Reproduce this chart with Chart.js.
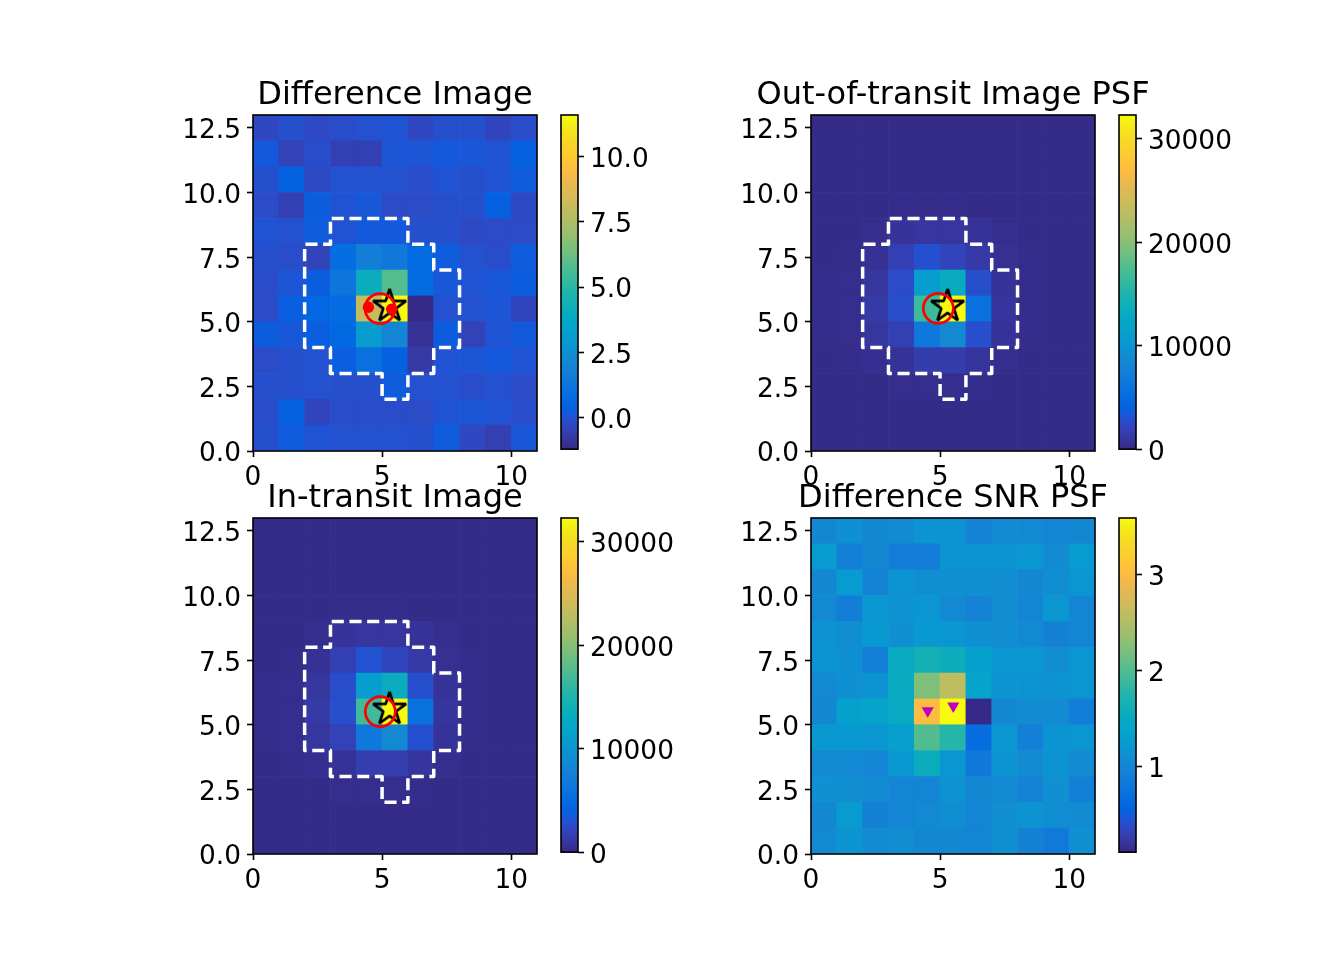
<!DOCTYPE html>
<html>
<head>
<meta charset="utf-8">
<title>Difference images</title>
<script src="https://cdn.jsdelivr.net/npm/chart.js@4/dist/chart.umd.min.js"></script>
<style>
body { margin: 0; background: #fff; }
canvas { position: absolute; }
</style>
</head>
<body>
<script>
// pixel values, rows written top of the image first (row 12 down to row 0)
const diffValues = [
  [-0.30, -0.10, -0.25, -0.15, -0.05, 0.00, -0.30, -0.10, -0.10, -0.35, -0.15],
  [0.15, -0.45, -0.15, -0.50, -0.50, 0.05, 0.05, 0.15, 0.10, 0.00, 0.35],
  [-0.10, 0.40, -0.25, -0.05, -0.05, -0.05, -0.15, 0.00, -0.10, 0.00, 0.20],
  [-0.20, -0.50, 0.25, 0.00, 0.10, -0.20, -0.20, -0.10, -0.10, 0.35, -0.25],
  [0.00, -0.05, 0.20, 0.00, 0.15, 0.15, -0.10, -0.10, -0.25, -0.20, -0.20],
  [-0.10, -0.15, -0.40, 0.85, 1.70, 1.40, 0.70, 0.20, -0.05, -0.15, 0.20],
  [-0.15, 0.05, 0.25, 1.25, 4.10, 5.80, 0.80, 0.10, 0.00, 0.10, 0.25],
  [-0.20, 0.30, 0.55, 0.80, 8.10, 11.60, -1.22, -0.05, -0.05, 0.05, -0.35],
  [0.25, 0.10, 0.30, 0.60, 3.00, 2.00, -0.95, 0.25, -0.45, 0.00, 0.15],
  [-0.20, -0.10, -0.05, 0.30, 1.00, 0.35, -0.70, 0.00, 0.05, 0.15, 0.00],
  [-0.10, -0.10, -0.05, -0.10, -0.10, 0.20, -0.05, -0.05, -0.15, -0.05, -0.20],
  [-0.15, 0.35, -0.35, -0.15, -0.15, -0.15, -0.20, 0.00, 0.05, 0.00, -0.15],
  [-0.10, 0.20, 0.00, -0.05, -0.05, -0.05, -0.10, 0.20, -0.30, -0.55, 0.10]
];
const outValues = [
  [100, 100, 100, 100, 100, 100, 100, 100, 100, 100, 100],
  [100, 100, 100, 100, 100, 100, 100, 100, 100, 100, 100],
  [100, 100, 100, 110, 120, 110, 100, 100, 100, 100, 100],
  [100, 100, 120, 160, 180, 170, 130, 110, 100, 100, 100],
  [110, 130, 350, 800, 950, 950, 700, 300, 130, 100, 100],
  [130, 180, 600, 1800, 2900, 2100, 1300, 500, 150, 100, 100],
  [150, 250, 1000, 2600, 10800, 13200, 2700, 700, 170, 100, 100],
  [200, 300, 1300, 2700, 16700, 32300, 5600, 900, 180, 100, 100],
  [150, 250, 1000, 1800, 6500, 8600, 2800, 700, 160, 100, 100],
  [120, 170, 400, 700, 1500, 1500, 900, 300, 130, 100, 100],
  [100, 110, 130, 250, 300, 300, 200, 120, 100, 100, 100],
  [100, 100, 100, 120, 130, 120, 110, 100, 100, 100, 100],
  [100, 100, 100, 100, 100, 100, 100, 100, 100, 100, 100]
];
const inValues = [
  [100, 100, 100, 100, 100, 100, 100, 100, 100, 100, 100],
  [100, 100, 100, 100, 100, 100, 100, 100, 100, 100, 100],
  [100, 100, 100, 120, 120, 120, 110, 100, 100, 100, 100],
  [100, 100, 130, 160, 190, 170, 130, 110, 100, 100, 100],
  [110, 130, 350, 800, 950, 950, 700, 300, 130, 100, 100],
  [130, 200, 600, 1800, 3000, 2200, 1300, 500, 150, 100, 100],
  [150, 280, 1000, 2700, 11000, 13400, 2800, 700, 170, 100, 100],
  [200, 320, 1300, 2800, 16800, 32300, 5700, 900, 180, 100, 100],
  [150, 280, 1000, 1900, 6600, 8700, 2900, 700, 160, 100, 100],
  [120, 170, 400, 700, 1600, 1600, 900, 300, 130, 100, 100],
  [100, 110, 130, 250, 300, 300, 200, 120, 100, 100, 100],
  [100, 100, 100, 120, 130, 120, 110, 100, 100, 100, 100],
  [100, 100, 100, 100, 100, 100, 100, 100, 100, 100, 100]
];
const snrValues = [
  [1.02, 1.12, 1.02, 1.07, 1.17, 1.17, 0.97, 1.05, 1.05, 0.99, 1.02],
  [1.25, 0.92, 1.02, 0.88, 0.88, 1.17, 1.17, 1.17, 1.20, 1.07, 1.25],
  [1.02, 1.25, 0.97, 1.17, 1.09, 1.12, 1.12, 1.09, 1.02, 1.09, 1.20],
  [1.05, 0.90, 1.20, 1.15, 1.18, 1.05, 0.97, 1.09, 0.99, 1.20, 0.99],
  [1.15, 1.09, 1.22, 1.12, 1.22, 1.20, 1.12, 1.09, 1.05, 0.95, 0.99],
  [1.17, 1.12, 0.92, 1.50, 1.64, 1.58, 1.32, 1.20, 1.20, 1.09, 1.20],
  [1.05, 1.12, 1.17, 1.52, 2.23, 2.58, 1.38, 1.17, 1.17, 1.15, 1.20],
  [1.02, 1.32, 1.38, 1.48, 3.00, 3.59, 0.11, 1.02, 1.07, 1.07, 0.90],
  [1.22, 1.22, 1.20, 1.30, 2.00, 1.77, 0.68, 1.20, 0.92, 1.17, 1.20],
  [1.05, 1.05, 0.99, 1.22, 1.56, 1.20, 0.82, 1.17, 1.07, 1.17, 1.07],
  [1.12, 1.09, 1.07, 0.99, 0.99, 1.15, 1.02, 1.05, 0.97, 1.12, 0.92],
  [1.02, 1.25, 0.95, 0.99, 1.05, 1.09, 0.99, 1.09, 1.17, 1.09, 1.07],
  [1.05, 1.17, 1.07, 1.09, 1.02, 1.02, 0.99, 1.12, 0.95, 0.85, 1.12]
];

const xTicks = [0, 5, 10];
const yTicks = [0, 2.5, 5, 7.5, 10, 12.5];
const diffBarTicks = [0, 2.5, 5, 7.5, 10];
const fluxBarTicks = [0, 10000, 20000, 30000];
const snrBarTicks = [1, 2, 3];

// optimal aperture outline
const apertureX = [3, 6, 6, 7, 7, 8, 8, 7, 7, 6, 6, 5, 5, 3, 3, 2, 2, 3, 3];
const apertureY = [9, 9, 8, 8, 7, 7, 4, 4, 3, 3, 2, 2, 3, 3, 4, 4, 8, 8, 9];

const catalogStar = { x: 5.29, y: 5.6 };
const diffCircle = { x: 4.92, y: 5.51 };
const outCircle = { x: 4.93, y: 5.52 };
const inCircle = { x: 4.93, y: 5.51 };
const diffDots = [{ x: 4.47, y: 5.56 }, { x: 5.37, y: 5.49 }];
const snrMarks = [{ x: 4.52, y: 5.54 }, { x: 5.51, y: 5.73 }];

const parula = [
  [0.2081, 0.1663, 0.5292], [0.2116, 0.1898, 0.5777], [0.2123, 0.2138, 0.6270], [0.2081, 0.2386, 0.6771],
  [0.1959, 0.2645, 0.7279], [0.1707, 0.2919, 0.7792], [0.1253, 0.3242, 0.8303], [0.0591, 0.3598, 0.8683],
  [0.0117, 0.3875, 0.8820], [0.0060, 0.4086, 0.8828], [0.0165, 0.4266, 0.8786], [0.0329, 0.4430, 0.8720],
  [0.0498, 0.4586, 0.8641], [0.0629, 0.4737, 0.8554], [0.0723, 0.4887, 0.8467], [0.0779, 0.5040, 0.8384],
  [0.0793, 0.5200, 0.8312], [0.0749, 0.5375, 0.8263], [0.0641, 0.5570, 0.8240], [0.0488, 0.5772, 0.8228],
  [0.0343, 0.5966, 0.8199], [0.0265, 0.6137, 0.8135], [0.0239, 0.6287, 0.8038], [0.0231, 0.6418, 0.7913],
  [0.0228, 0.6535, 0.7767], [0.0267, 0.6642, 0.7607], [0.0384, 0.6743, 0.7436], [0.0590, 0.6838, 0.7254],
  [0.0843, 0.6928, 0.7062], [0.1133, 0.7015, 0.6859], [0.1453, 0.7098, 0.6646], [0.1801, 0.7177, 0.6424],
  [0.2178, 0.7250, 0.6193], [0.2586, 0.7317, 0.5954], [0.3022, 0.7376, 0.5712], [0.3482, 0.7424, 0.5473],
  [0.3953, 0.7459, 0.5244], [0.4420, 0.7481, 0.5033], [0.4871, 0.7491, 0.4840], [0.5300, 0.7491, 0.4661],
  [0.5709, 0.7485, 0.4494], [0.6099, 0.7473, 0.4337], [0.6473, 0.7456, 0.4188], [0.6834, 0.7435, 0.4044],
  [0.7184, 0.7411, 0.3905], [0.7525, 0.7384, 0.3768], [0.7858, 0.7356, 0.3633], [0.8185, 0.7327, 0.3498],
  [0.8507, 0.7299, 0.3360], [0.8824, 0.7274, 0.3217], [0.9139, 0.7258, 0.3063], [0.9450, 0.7261, 0.2886],
  [0.9739, 0.7314, 0.2666], [0.9938, 0.7455, 0.2403], [0.9990, 0.7653, 0.2164], [0.9955, 0.7861, 0.1967],
  [0.9880, 0.8066, 0.1794], [0.9789, 0.8271, 0.1633], [0.9697, 0.8481, 0.1475], [0.9626, 0.8705, 0.1309],
  [0.9589, 0.8949, 0.1132], [0.9598, 0.9218, 0.0948], [0.9661, 0.9514, 0.0755], [0.9763, 0.9831, 0.0538]
];

const nCols = 11;
const nRows = 13;

Chart.defaults.font.family = '"DejaVu Sans"';
Chart.defaults.color = '#000';
Chart.defaults.animation = false;
Chart.defaults.events = [];

function toRgb(c) {
  return 'rgb(' + c.map(v => Math.round(v * 255)).join(',') + ')';
}

function valueColor(v, vmin, vmax) {
  const f = Math.min(1, Math.max(0, (v - vmin) / (vmax - vmin))) * (parula.length - 1);
  const i = Math.min(parula.length - 2, Math.floor(f));
  const t = f - i;
  return toRgb(parula[i].map((c, k) => c + (parula[i + 1][k] - c) * t));
}

// outline of the axes, matplotlib style, all four sides
const framePlugin = {
  id: 'frame',
  afterDraw(chart) {
    const a = chart.chartArea, ctx = chart.ctx;
    ctx.save();
    ctx.strokeStyle = '#000';
    ctx.lineWidth = 1.6;
    ctx.strokeRect(a.left, a.top, a.right - a.left, a.bottom - a.top);
    ctx.restore();
  }
};

function addCanvas(left, top, w, h) {
  const c = document.createElement('canvas');
  c.width = w;
  c.height = h;
  c.style.left = left + 'px';
  c.style.top = top + 'px';
  c.style.width = w + 'px';
  c.style.height = h + 'px';
  document.body.appendChild(c);
  return c;
}

function starImage(radius, width) {
  const size = Math.ceil(radius * 2 + 14);
  const c = document.createElement('canvas');
  c.width = c.height = size;
  const ctx = c.getContext('2d');
  ctx.translate(size / 2, size / 2);
  ctx.beginPath();
  for (let i = 0; i < 10; i++) {
    const r = i % 2 ? radius * 0.381966 : radius;
    const a = -Math.PI / 2 + i * Math.PI / 5;
    ctx.lineTo(r * Math.cos(a), r * Math.sin(a));
  }
  ctx.closePath();
  ctx.lineJoin = 'bevel';
  ctx.lineWidth = width;
  ctx.strokeStyle = '#000';
  ctx.stroke();
  return c;
}

const tickGrid = { drawOnChartArea: false, drawTicks: true, tickLength: 6, tickWidth: 1.6, tickColor: '#000', offset: false };

function setTicks(list) {
  return axis => { axis.ticks = list.map(v => ({ value: v })); };
}

function drawPanel(opts) {
  const cells = [];
  const colors = [];
  opts.values.forEach((row, r) => {
    row.forEach((v, col) => {
      const y = nRows - 1 - r;
      cells.push({ x: col + 0.5, y: [y, y + 1] });
      colors.push(valueColor(v, opts.vmin, opts.vmax));
    });
  });

  const datasets = [];
  if (opts.marks) {
    datasets.push({
      type: 'scatter', data: opts.marks, order: 0,
      pointStyle: opts.markStyle, rotation: opts.markRotation || 0,
      pointRadius: opts.markRadius, backgroundColor: opts.markColor, borderColor: opts.markColor, borderWidth: 0
    });
  }
  if (opts.circle) {
    datasets.push({
      type: 'scatter', data: [opts.circle], order: 1, pointStyle: 'circle', pointRadius: 15,
      backgroundColor: 'rgba(0,0,0,0)', borderColor: '#f00', borderWidth: 2.7
    });
  }
  if (opts.star) {
    datasets.push({ type: 'scatter', data: [opts.star], order: 2, pointStyle: starImage(17.3, 2.7), pointRadius: 17 });
  }
  if (opts.aperture) {
    datasets.push({
      type: 'scatter', showLine: true, order: 3, pointRadius: 0,
      data: apertureX.map((x, i) => ({ x: x, y: apertureY[i] })),
      borderColor: '#fff', borderWidth: 3.5, borderDash: [12.1, 5.6], borderDashOffset: 16.4,
      borderJoinStyle: 'round', fill: false, tension: 0
    });
  }
  datasets.push({
    type: 'bar', data: cells, order: 4, backgroundColor: colors, borderWidth: 0,
    barPercentage: 1, categoryPercentage: 1
  });

  const marginX = 100, titleH = 44, bottomH = 50;
  const w = 284, h = 336;
  const canvas = addCanvas(opts.left - marginX, opts.top - titleH, w + marginX * 2, h + titleH + bottomH);
  new Chart(canvas, {
    type: 'bar',
    data: { datasets: datasets },
    plugins: [framePlugin],
    options: {
      responsive: false,
      layout: { autoPadding: false },
      plugins: {
        legend: { display: false },
        tooltip: { enabled: false },
        title: { display: true, text: opts.title, font: { size: 32, weight: 'normal' }, padding: { top: 5.6, bottom: 0 } }
      },
      scales: {
        x: {
          type: 'linear', min: 0, max: nCols, offset: false, grid: tickGrid, border: { display: false },
          afterBuildTicks: setTicks(xTicks),
          afterFit: s => { s.height = bottomH; },
          ticks: { font: { size: 26.4 }, padding: 5, maxRotation: 0, autoSkip: false, callback: v => String(v) }
        },
        y: {
          type: 'linear', min: 0, max: nRows, grid: tickGrid, border: { display: false },
          afterBuildTicks: setTicks(yTicks),
          afterFit: s => { s.width = marginX; },
          ticks: { font: { size: 26.4 }, padding: 6, labelOffset: 3.5, autoSkip: false, callback: v => v.toFixed(1) }
        },
        // empty right axis, keeps the plot centred under the full width title
        spacer: {
          type: 'linear', position: 'right',
          ticks: { display: false }, grid: { display: false }, border: { display: false },
          afterFit: s => { s.width = marginX; }
        }
      }
    }
  });

  // the tick labels need head room above the bar or the layout shrinks it
  const barLeft = 10, barTop = 24, barBottom = 20;
  const barCanvas = addCanvas(opts.left + 308 - barLeft, opts.top - barTop, barLeft + 17 + 110, h + barTop + barBottom);
  new Chart(barCanvas, {
    type: 'bar',
    data: {
      datasets: [{
        data: [{ x: 0.5, y: [opts.vmin, opts.vmax] }],
        barPercentage: 1, categoryPercentage: 1, borderWidth: 0,
        backgroundColor: ctx => {
          const a = ctx.chart.chartArea;
          if (!a) return '#000';
          const g = ctx.chart.ctx.createLinearGradient(0, a.bottom, 0, a.top);
          parula.forEach((c, i) => g.addColorStop(i / (parula.length - 1), toRgb(c)));
          return g;
        }
      }]
    },
    plugins: [framePlugin],
    options: {
      responsive: false,
      layout: { autoPadding: false, padding: { left: barLeft, top: barTop } },
      plugins: { legend: { display: false }, tooltip: { enabled: false } },
      scales: {
        x: {
          type: 'linear', min: 0, max: 1, offset: false,
          ticks: { display: false }, grid: { display: false }, border: { display: false },
          afterFit: s => { s.height = barBottom; }
        },
        y: {
          type: 'linear', position: 'right', min: opts.vmin, max: opts.vmax,
          grid: tickGrid, border: { display: false },
          afterBuildTicks: setTicks(opts.barTicks),
          afterFit: s => { s.width = 110; },
          ticks: { font: { size: 26.4 }, padding: 6, labelOffset: 3.5, autoSkip: false, callback: opts.barLabel }
        }
      }
    }
  });
}

drawPanel({
  title: 'Difference Image', left: 253, top: 115, values: diffValues, vmin: -1.22, vmax: 11.6,
  barTicks: diffBarTicks, barLabel: v => v.toFixed(1), aperture: true, star: catalogStar, circle: diffCircle,
  marks: diffDots, markStyle: 'circle', markRadius: 5.7, markColor: '#f00'
});
drawPanel({
  title: 'Out-of-transit Image PSF', left: 811, top: 115, values: outValues, vmin: 0, vmax: 32300,
  barTicks: fluxBarTicks, barLabel: v => String(v), aperture: true, star: catalogStar, circle: outCircle
});
drawPanel({
  title: 'In-transit Image', left: 253, top: 518, values: inValues, vmin: 0, vmax: 32300,
  barTicks: fluxBarTicks, barLabel: v => String(v), aperture: true, star: catalogStar, circle: inCircle
});
drawPanel({
  title: 'Difference SNR PSF', left: 811, top: 518, values: snrValues, vmin: 0.11, vmax: 3.59,
  barTicks: snrBarTicks, barLabel: v => String(v),
  marks: snrMarks, markStyle: 'triangle', markRotation: 180, markRadius: 7, markColor: '#bf00bf'
});
</script>
</body>
</html>
